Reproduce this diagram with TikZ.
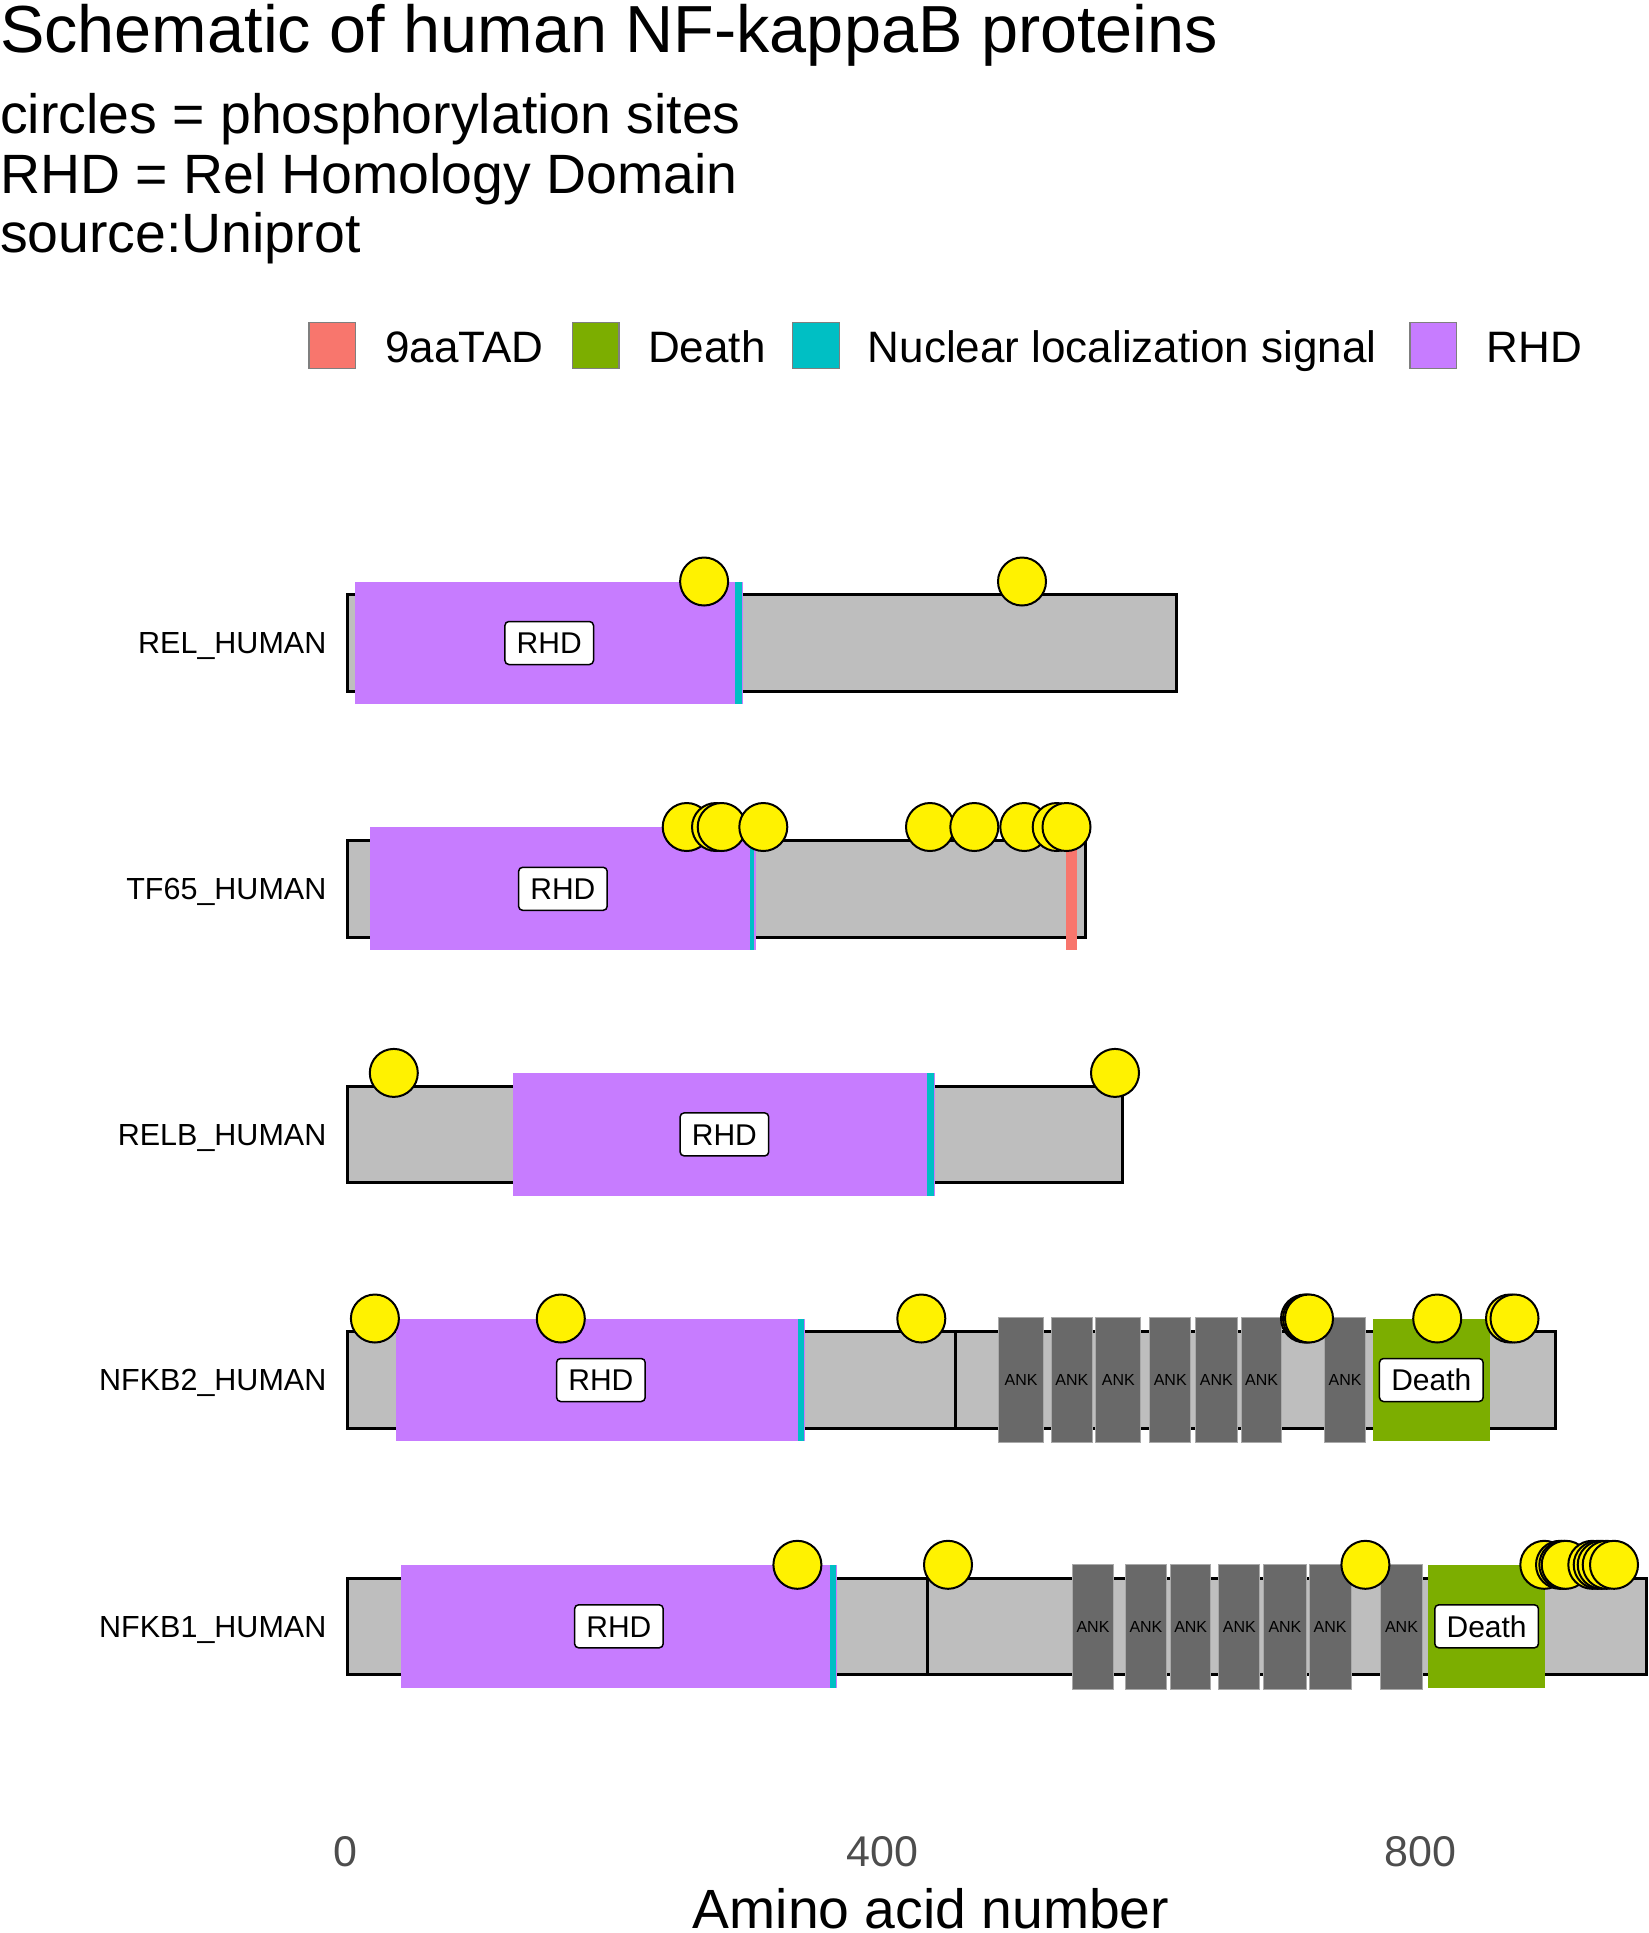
\documentclass[tikz,border=0pt]{standalone}
\usepackage{fontspec}
\setmainfont{Liberation Sans}
\definecolor{chaingrey}{HTML}{BEBEBE}
\definecolor{rhdc}{HTML}{C77CFF}
\definecolor{nlsc}{HTML}{00BFC4}
\definecolor{tadc}{HTML}{F8766D}
\definecolor{deathc}{HTML}{7CAE00}
\definecolor{ankc}{HTML}{696969}
\definecolor{ankedge}{HTML}{A9A9A9}
\definecolor{axisgrey}{HTML}{4D4D4D}
\definecolor{keyedge}{HTML}{7F7F7F}
\newcommand\fsz[1]{\fontsize{#1pt}{#1pt}\selectfont}
\begin{document}
\begin{tikzpicture}[x=1pt,y=-1pt,
  chainbox/.style={fill=chaingrey,draw=black,line width=3pt},
  rhdbox/.style={fill=rhdc},
  nlsbox/.style={fill=nlsc},
  tadbox/.style={fill=tadc},
  deathbox/.style={fill=deathc},
  ankbox/.style={fill=ankc,draw=ankedge,line width=1pt,inner sep=0pt,minimum height=125pt,font=\fsz{16},text=black},
  phos/.style={circle,fill=yellow,draw=black,line width=2pt,minimum size=48pt,inner sep=0pt},
  domlabel/.style={fill=white,draw=black,line width=1.5pt,rounded corners=4pt,font=\fsz{30},inner xsep=11.8pt,inner ysep=10.75pt,text height=21.5pt,text depth=0pt},
  protname/.style={anchor=base east,inner sep=0pt,font=\fsz{30.5},text=black},
  keybox/.style={draw=keyedge,line width=1.5pt},
  keytext/.style={anchor=base west,inner sep=0pt,font=\fsz{44}},
  ticktext/.style={anchor=base,inner sep=0pt,font=\fsz{43},text=axisgrey},
  subtext/.style={anchor=base west,inner sep=0pt,font=\fsz{55.4}}
]
\useasboundingbox (0,0) rectangle (1649,1933);

% Title and subtitle
\node[anchor=base west,inner sep=0pt,font=\fsz{66.6}] (title) at (0,52) {Schematic of human NF-kappaB proteins};
\node[subtext] (sub1) at (0,133.5) {circles = phosphorylation sites};
\node[subtext] (sub2) at (0,193) {RHD = Rel Homology Domain};
\node[subtext] (sub3) at (0,252.3) {source:Uniprot};

% Legend
\draw[keybox,fill=tadc] (309,322.3) rectangle (355.7,368.7);
\node[keytext] (k1) at (385,362.5) {9aaTAD};
\draw[keybox,fill=deathc] (572.3,322.3) rectangle (619,368.7);
\node[keytext] (k2) at (648,362.5) {Death};
\draw[keybox,fill=nlsc] (792.7,322.3) rectangle (839.4,368.7);
\node[keytext] (k3) at (867.6,362.5) {Nuclear localization signal};
\draw[keybox,fill=rhdc] (1410,322.3) rectangle (1456.7,368.7);
\node[keytext] (k4) at (1486.5,362.5) {RHD};

% Protein names
\node[protname] (nREL) at (326.5,653.9) {REL\_HUMAN};
\node[protname] (nTF65) at (326.5,899.7) {TF65\_HUMAN};
\node[protname] (nRELB) at (326.5,1145.3) {RELB\_HUMAN};
\node[protname] (nNFKB2) at (326.5,1390.9) {NFKB2\_HUMAN};
\node[protname] (nNFKB1) at (326.5,1637.2) {NFKB1\_HUMAN};

% ---------- REL_HUMAN ----------
\begin{scope}[yshift=-643pt]
  \draw[chainbox] (347,-48.3) rectangle (1176.8,48.3);
  \fill[rhdbox] (355,-61.4) rectangle (743.3,61.4);
  \fill[nlsbox] (735,-61.4) rectangle (742,61.4);
  \node[domlabel] (rel-rhd) at (549.2,0) {RHD};
  \node[phos] (rel-p1) at (704.1,-61.5) {};
  \node[phos] (rel-p2) at (1022,-61.5) {};
\end{scope}

% ---------- TF65_HUMAN ----------
\begin{scope}[yshift=-888.8pt]
  \draw[chainbox] (347,-48.3) rectangle (1085.5,48.3);
  \fill[rhdbox] (370,-61.4) rectangle (755.7,61.4);
  \fill[nlsbox] (750,-61.4) rectangle (754,61.4);
  \fill[tadbox] (1066,-61.4) rectangle (1077,61.4);
  \node[domlabel] (tf-rhd) at (562.9,0) {RHD};
  \foreach \px [count=\i] in {686.7,716,721.7,763.3,930,974.3,1024.3,1056.7,1066.5}
    \node[phos] (tf-p\i) at (\px,-61.8) {};
\end{scope}

% ---------- RELB_HUMAN ----------
\begin{scope}[yshift=-1134.4pt]
  \draw[chainbox] (347,-48.3) rectangle (1122.5,48.3);
  \fill[rhdbox] (513.4,-61.4) rectangle (935.3,61.4);
  \fill[nlsbox] (927,-61.4) rectangle (934,61.4);
  \node[domlabel] (relb-rhd) at (724.4,0) {RHD};
  \node[phos] (relb-p1) at (393.8,-61.5) {};
  \node[phos] (relb-p2) at (1115,-61.5) {};
\end{scope}

% ---------- NFKB2_HUMAN ----------
\begin{scope}[yshift=-1380pt]
  \draw[chainbox] (347,-48.3) rectangle (1555,48.3);
  \draw[chainbox] (347,-48.3) rectangle (955,48.3);
  \fill[rhdbox] (396.4,-61.4) rectangle (805.4,61.4);
  \fill[nlsbox] (798.3,-61.4) rectangle (804.3,61.4);
  \foreach \xa/\xb [count=\i] in {998.2/1044.1,1051/1092.7,1095.4/1141.4,1149.4/1191.1,1194.9/1237.8,1240.9/1282.2,1324.3/1366}
    \node[ankbox,minimum width={\xb pt-\xa pt-1pt}] (b2-ank\i) at ({(\xa+\xb)/2},0.3) {ANK};
  \fill[deathbox] (1372.9,-61.4) rectangle (1489.6,61.4);
  \node[domlabel] (b2-rhd) at (600.9,0) {RHD};
  \node[domlabel] (b2-death) at (1431.3,0) {Death};
  \foreach \px [count=\i] in {374.9,560.8,921.3,1305,1307,1309,1437.2,1510,1514.5}
    \node[phos] (b2-p\i) at (\px,-61.5) {};
\end{scope}

% ---------- NFKB1_HUMAN ----------
\begin{scope}[yshift=-1626.3pt]
  \draw[chainbox] (347,-48.3) rectangle (1646.5,48.3);
  \draw[chainbox] (347,-48.3) rectangle (927.4,48.3);
  \fill[rhdbox] (400.7,-61.4) rectangle (837,61.4);
  \fill[nlsbox] (829.5,-61.4) rectangle (836,61.4);
  \foreach \xa/\xb [count=\i] in {1071.9/1114.1,1125.3/1166.6,1170/1211.4,1218.2/1260.4,1263/1306.9,1308.6/1351.6,1380/1423}
    \node[ankbox,minimum width={\xb pt-\xa pt-1pt}] (b1-ank\i) at ({(\xa+\xb)/2},0.3) {ANK};
  \fill[deathbox] (1428.2,-61.4) rectangle (1545,61.4);
  \node[domlabel] (b1-rhd) at (618.9,0) {RHD};
  \node[domlabel] (b1-death) at (1486.6,0) {Death};
  \foreach \px [count=\i] in {797.4,948,1365.4,1544.3,1560,1563.3,1565.7,1592.3,1597.7,1601.7,1606.7,1614}
    \node[phos] (b1-p\i) at (\px,-61.5) {};
\end{scope}

% Axis
\node[ticktext] (t0) at (345,1866.7) {0};
\node[ticktext] (t400) at (882.8,1866.7) {400};
\node[ticktext] (t800) at (1420.6,1866.7) {800};
\node[anchor=base,inner sep=0pt,font=\fsz{55.3}] (xlab) at (931,1928.5) {Amino acid number};
\end{tikzpicture}
\end{document}
